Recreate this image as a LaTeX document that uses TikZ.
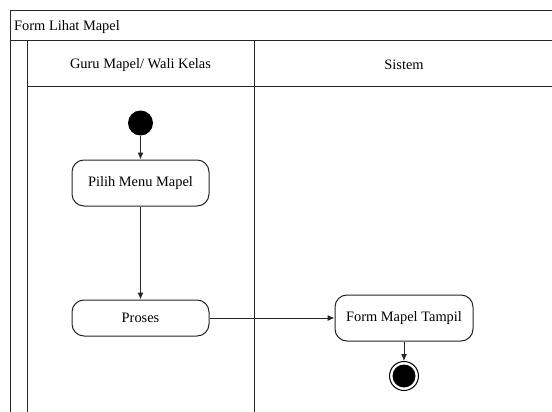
\documentclass[tikz,border=0pt]{standalone}
\usepackage{fontspec}
\setmainfont{Liberation Serif}
\usetikzlibrary{arrows.meta}
\begin{document}
\begin{tikzpicture}[x=1pt,y=-1pt,
  lane/.style={line width=1pt, draw=black!85},
  act/.style={draw=black!85, line width=1pt, rounded corners=12pt, fill=white, font=\fontsize{14.4}{16}\selectfont, inner sep=0pt},
  startnode/.style={circle, fill=black, minimum size=25pt, inner sep=0pt},
  endnode/.style={circle, draw=black, line width=1pt, fill=white, minimum size=29pt, inner sep=0pt,
     path picture={\fill[black] (path picture bounding box.center) circle (11.5pt);}},
  flow/.style={line width=1pt, draw=black!85, -{Latex[length=7pt,width=6pt]}},
  hdr/.style={font=\fontsize{14.4}{16}\selectfont}]
\useasboundingbox (0,0) rectangle (552,412);
\fill[white] (0,0) rectangle (552,412);
% swimlane frame
\draw[lane] (552,10.5) -- (10,10.5) -- (10,412);
\draw[lane] (10,41) -- (552,41);
\draw[lane] (27,41) -- (27,412);
\draw[lane] (27,87) -- (552,87);
\draw[lane] (254,41) -- (254,412);
\node[hdr, anchor=west, inner sep=0pt] (title) at (14,27) {Form Lihat Mapel};
\node[hdr] (lane1) at (140.5,65) {Guru Mapel/ Wali Kelas};
\node[hdr] (lane2) at (404,65) {Sistem};
% nodes
\node[startnode] (start) at (140.5,123) {};
\node[act, minimum width=137pt, minimum height=46pt] (pilih) at (140.5,183) {Pilih Menu Mapel};
\node[act, minimum width=137pt, minimum height=36pt] (proses) at (140.5,318) {Proses};
\node[act, minimum width=138pt, minimum height=46pt] (form) at (404,318) {Form Mapel Tampil};
\node[endnode] (end) at (404,376) {};
% connectors
\draw[flow] (start) -- (pilih);
\draw[flow] (pilih) -- (proses);
\draw[flow] (proses) -- (form);
\draw[flow] (form) -- (end);
\end{tikzpicture}
\end{document}
